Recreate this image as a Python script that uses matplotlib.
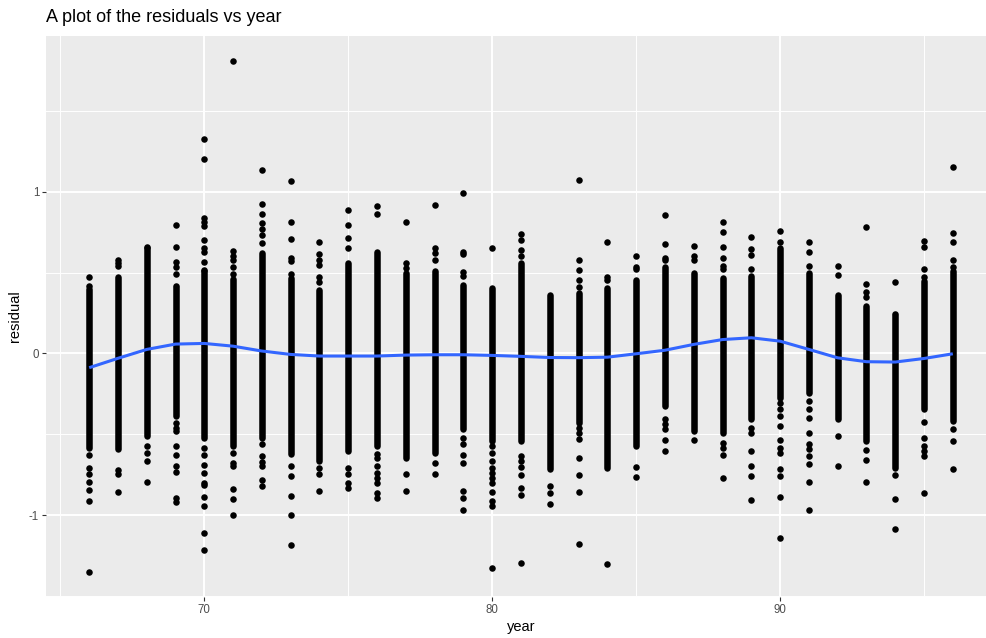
import matplotlib
matplotlib.use("Agg")
import matplotlib.pyplot as plt
import numpy as np

plt.rcParams['font.family'] = ['Liberation Sans', 'DejaVu Sans']

# ---- data ----
years = list(range(66, 97))

# dense (visually solid) range of residuals for each year
dense_hi = [0.40, 0.47, 0.65, 0.405, 0.51, 0.46, 0.62, 0.467, 0.395, 0.56,
            0.625, 0.50, 0.508, 0.426, 0.405, 0.56, 0.364, 0.374, 0.405, 0.453,
            0.535, 0.498, 0.467, 0.477, 0.652, 0.498, 0.364, 0.292, 0.23, 0.446,
            0.508]
dense_lo = [-0.582, -0.593, -0.51, -0.387, -0.52, -0.572, -0.52, -0.623, -0.665, -0.603,
            -0.572, -0.644, -0.613, -0.469, -0.541, -0.541, -0.716, -0.428, -0.706, -0.572,
            -0.325, -0.479, -0.49, -0.407, -0.274, -0.243, -0.407, -0.541, -0.706, -0.346,
            -0.418]

# isolated points above the dense range
upper_pts = [
    [0.473, 0.416],
    [0.576, 0.56, 0.54],
    [0.659],
    [0.794, 0.659, 0.566, 0.535, 0.492, 0.42],
    [1.325, 1.204, 0.835, 0.81, 0.786, 0.70, 0.65, 0.625, 0.566, 0.519],
    [1.805, 0.632, 0.60, 0.58, 0.533, 0.49],
    [1.136, 0.926, 0.864, 0.807, 0.77, 0.735, 0.681],
    [1.066, 0.813, 0.708, 0.591, 0.57, 0.494],
    [0.687, 0.617, 0.575, 0.549, 0.471, 0.44],
    [0.889, 0.796, 0.714, 0.65],
    [0.909, 0.864],
    [0.813, 0.56, 0.53],
    [0.918, 0.652, 0.62, 0.58],
    [0.99, 0.626, 0.615, 0.504, 0.48],
    [0.652],
    [0.737, 0.704, 0.642, 0.60],
    [],
    [1.074, 0.58, 0.519, 0.457, 0.41],
    [0.691, 0.473, 0.455],
    [0.601, 0.535, 0.52],
    [0.858, 0.679, 0.59, 0.58],
    [0.663, 0.601, 0.58],
    [0.811, 0.749, 0.656, 0.589, 0.54, 0.52],
    [0.72, 0.648, 0.611, 0.523],
    [0.755, 0.687],
    [0.687, 0.626, 0.539],
    [0.539, 0.484],
    [0.78, 0.432, 0.38, 0.35],
    [0.442, 0.247],
    [0.693, 0.656, 0.523, 0.473],
    [1.15, 0.745, 0.691, 0.58, 0.535],
]

# isolated points below the dense range
lower_pts = [
    [-0.628, -0.71, -0.747, -0.794, -0.846, -0.912, -1.348],
    [-0.72, -0.745, -0.854],
    [-0.572, -0.613, -0.665, -0.792],
    [-0.43, -0.46, -0.48, -0.572, -0.63, -0.695, -0.73, -0.895, -0.916],
    [-0.582, -0.63, -0.691, -0.741, -0.798, -0.812, -0.887, -0.946, -1.107, -1.216],
    [-0.617, -0.675, -0.695, -0.84, -0.901, -1.0],
    [-0.56, -0.634, -0.67, -0.695, -0.784, -0.819],
    [-0.695, -0.757, -0.881, -0.998, -1.183],
    [-0.706, -0.747, -0.852],
    [-0.706, -0.747, -0.798, -0.833],
    [-0.623, -0.645, -0.695, -0.736, -0.767, -0.798, -0.86, -0.895],
    [-0.743, -0.85],
    [-0.679, -0.743],
    [-0.521, -0.562, -0.63, -0.679, -0.852, -0.891, -0.967],
    [-0.572, -0.613, -0.665, -0.706, -0.736, -0.767, -0.798, -0.856, -0.912, -0.942, -1.327],
    [-0.634, -0.665, -0.70, -0.749, -0.829, -0.874, -1.296],
    [-0.819, -0.864, -0.932],
    [-0.459, -0.49, -0.531, -0.646, -0.749, -0.854, -1.181],
    [-1.302],
    [-0.702, -0.763],
    [-0.407, -0.438, -0.469, -0.537, -0.603],
    [-0.535],
    [-0.556, -0.582, -0.63, -0.77],
    [-0.459, -0.49, -0.603, -0.698, -0.759, -0.905],
    [-0.305, -0.346, -0.387, -0.449, -0.535, -0.582, -0.613, -0.712, -0.757, -0.887, -1.14],
    [-0.294, -0.346, -0.397, -0.49, -0.562, -0.593, -0.634, -0.682, -0.792, -0.965],
    [-0.51, -0.698],
    [-0.597, -0.659, -0.794],
    [-0.753, -0.901, -1.086],
    [-0.422, -0.521, -0.572, -0.603, -0.634, -0.862],
    [-0.469, -0.541, -0.712],
]

# loess smooth read at each year
smooth_y = [-0.088, -0.03, 0.025, 0.058, 0.062, 0.045, 0.015, -0.006, -0.016, -0.016,
            -0.016, -0.01, -0.008, -0.008, -0.012, -0.018, -0.025, -0.026, -0.023, -0.002,
            0.02, 0.056, 0.086, 0.097, 0.076, 0.025, -0.027, -0.051, -0.053, -0.031,
            -0.002]

title = "A plot of the residuals vs year"
xlabel = "year"
ylabel = "residual"
xticks = [70, 80, 90]
yticks = [-1, 0, 1]

# ---- figure ----
W, H = 987, 638
fig = plt.figure(figsize=(W / 100, H / 100), dpi=100)
pl, pr, pt, pb = 46, 996, 36, 597
ax = fig.add_axes([pl / W, (H - pb) / H, (pr - pl) / W, (pb - pt) / H])
ax.set_facecolor("#EBEBEB")
for s in ax.spines.values():
    s.set_visible(False)

xmin, xmax = min(years), max(years)
ex = (xmax - xmin) * 0.05
ax.set_xlim(xmin - ex, xmax + ex)
allv = [v for l in upper_pts + lower_pts for v in l] + dense_hi + dense_lo
ymin, ymax = min(allv), max(allv)
ey = (ymax - ymin) * 0.05
ax.set_ylim(ymin - ey, ymax + ey)

# grid
ax.set_xticks(xticks)
ax.set_yticks(yticks)
ax.set_xticks([65, 75, 85, 95], minor=True)
ax.set_yticks([-1.5, -0.5, 0.5, 1.5], minor=True)
ax.grid(True, which="major", color="white", linewidth=1.4)
ax.grid(True, which="minor", color="white", linewidth=0.7)
ax.set_axisbelow(True)
ax.tick_params(which="minor", length=0)
ax.tick_params(which="major", length=3, width=0.8, color="#333333",
               labelsize=8.3, labelcolor="#4D4D4D", pad=2)
ax.set_yticklabels([str(t) for t in yticks])

ms = 4.7  # point diameter in pt
# dense columns
ax.vlines(years, dense_lo, dense_hi, colors="black", linewidth=ms,
          capstyle="round", zorder=3)
# isolated points
px, py = [], []
for yr, up, lo in zip(years, upper_pts, lower_pts):
    for v in up + lo:
        px.append(yr)
        py.append(v)
ax.scatter(px, py, s=ms ** 2, color="black", linewidths=0, zorder=3)

# smooth line
ax.plot(years, smooth_y, color="#3366FF", linewidth=2.2, zorder=4,
        solid_capstyle="butt")

ax.set_xlabel(xlabel, fontsize=10.5, color="black", labelpad=3)
ax.set_ylabel(ylabel, fontsize=10.5, color="black", labelpad=5)
fig.text(pl / W, 1 - 17 / H, title, fontsize=13, color="black",
         ha="left", va="center")

fig.savefig("out.png", dpi=100)
